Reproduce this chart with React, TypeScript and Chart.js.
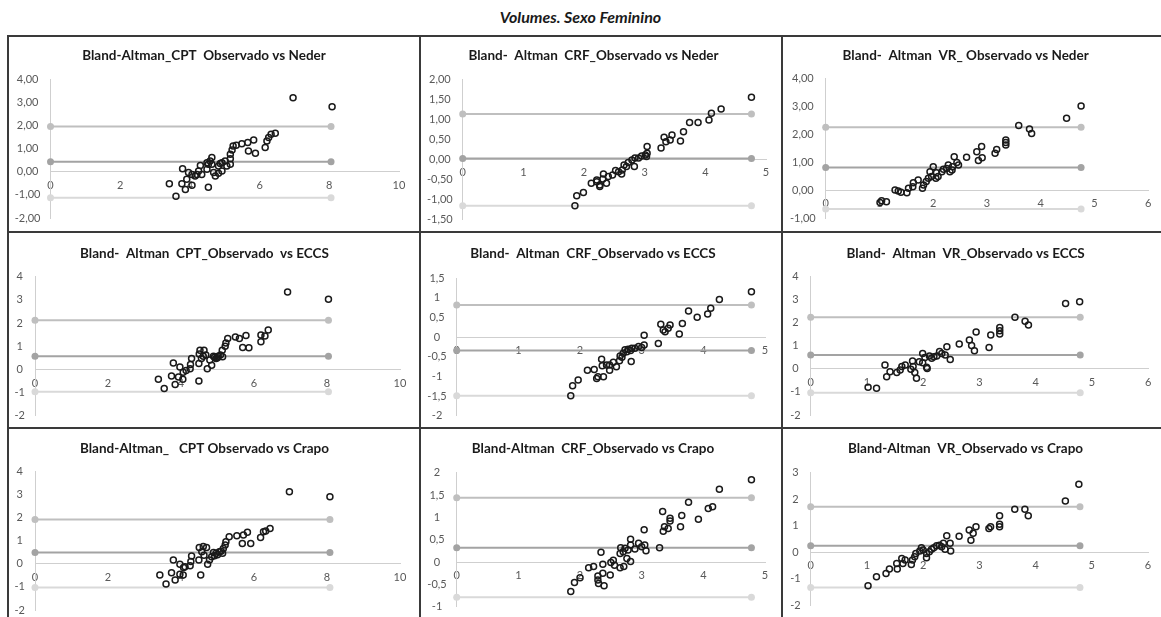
import React, { useEffect, useRef } from "react";
import { Chart, registerables } from "chart.js";

Chart.register(...registerables);

const FONT = "Lato, 'Open Sans', sans-serif";

// ---------- DATA ----------
// Row 1: vs Neder
const cptNederX = [6.96, 8.08, 6.45, 6.33, 6.26, 6.21, 6.16, 5.83, 5.66, 5.49, 5.68, 5.88, 5.33, 5.24, 5.21, 5.16, 5.16, 5.16, 5.01, 4.92, 4.82, 4.92, 4.82, 4.63, 4.58, 4.53, 4.63, 4.49, 4.49, 4.68, 4.73, 4.30, 4.25, 4.34, 4.20, 4.15, 4.06, 3.96, 3.79, 4.53, 3.41, 3.77, 3.87, 4.06, 3.60, 3.91, 5.06, 4.87];
const cptNederY = [3.19, 2.80, 1.66, 1.61, 1.47, 1.32, 1.04, 1.37, 1.26, 1.21, 0.89, 0.79, 1.14, 1.11, 0.94, 0.75, 0.56, 0.32, 0.46, 0.39, 0.24, 0.03, -0.07, 0.61, 0.46, 0.32, 0.32, 0.39, 0.10, -0.04, -0.19, 0.27, 0.03, -0.12, -0.12, -0.19, -0.12, -0.04, 0.13, -0.67, -0.52, -0.52, -0.77, -0.59, -1.06, -0.33, 0.25, 0.35];

const crfNederX = [4.76, 4.26, 4.10, 4.06, 3.88, 3.74, 3.64, 3.59, 3.45, 3.42, 3.32, 3.35, 3.27, 3.04, 3.04, 3.01, 3.03, 2.95, 2.90, 2.84, 2.79, 2.83, 2.73, 2.70, 2.66, 2.63, 2.57, 2.62, 2.52, 2.47, 2.40, 2.32, 2.31, 2.21, 2.37, 2.26, 2.26, 2.21, 2.12, 1.99, 1.88, 1.85];
const crfNederY = [1.55, 1.26, 1.15, 0.98, 0.92, 0.92, 0.69, 0.46, 0.61, 0.48, 0.55, 0.44, 0.28, 0.32, 0.15, 0.11, 0.07, 0.08, 0.03, 0.03, -0.02, -0.18, -0.08, -0.18, -0.14, -0.27, -0.31, -0.37, -0.28, -0.39, -0.43, -0.37, -0.49, -0.56, -0.60, -0.64, -0.68, -0.52, -0.60, -0.83, -0.91, -1.16];

const vrNederX = [4.75, 4.48, 3.59, 3.79, 3.83, 3.35, 3.35, 3.35, 3.18, 3.15, 2.90, 2.81, 2.84, 2.91, 2.62, 2.39, 2.47, 2.44, 2.28, 2.25, 2.35, 2.19, 2.16, 2.06, 2.00, 1.94, 2.09, 2.05, 1.97, 1.91, 1.87, 1.82, 1.80, 1.72, 1.63, 1.62, 1.54, 1.51, 1.40, 1.35, 1.29, 1.13, 1.01, 1.04, 2.36, 2.31];
const vrNederY = [3.00, 2.56, 2.30, 2.18, 2.02, 1.79, 1.70, 1.61, 1.45, 1.31, 1.55, 1.37, 1.05, 1.15, 1.17, 1.19, 0.89, 0.98, 0.89, 0.77, 0.71, 0.74, 0.65, 0.62, 0.83, 0.65, 0.48, 0.42, 0.48, 0.42, 0.30, 0.18, 0.06, 0.36, 0.26, 0.12, 0.06, -0.10, -0.08, -0.04, 0.00, -0.42, -0.45, -0.38, 0.83, 0.65];

// Row 2: vs ECCS
const cptEccsX = [6.92, 8.04, 6.39, 6.30, 6.19, 6.19, 5.78, 5.60, 5.49, 5.69, 5.86, 5.28, 5.23, 5.21, 5.13, 5.14, 5.02, 4.96, 4.89, 4.79, 4.84, 4.72, 4.63, 4.52, 4.61, 4.56, 4.50, 4.49, 4.29, 4.26, 4.25, 4.14, 4.06, 3.97, 3.79, 4.49, 3.38, 3.74, 3.93, 4.05, 3.84, 3.54, 5.00, 4.92, 5.08, 4.68];
const cptEccsY = [3.34, 3.03, 1.70, 1.44, 1.48, 1.19, 1.46, 1.33, 1.40, 0.94, 0.93, 1.33, 1.14, 1.00, 0.83, 0.55, 0.57, 0.47, 0.57, 0.40, 0.18, 0.03, 0.83, 0.83, 0.57, 0.47, 0.66, 0.25, 0.47, 0.21, 0.03, -0.05, -0.12, 0.10, 0.28, -0.50, -0.43, -0.29, -0.33, -0.43, -0.65, -0.83, 0.50, 0.52, 0.62, 0.62];

const crfEccsX = [4.78, 4.26, 4.12, 4.07, 3.90, 3.76, 3.66, 3.61, 3.46, 3.31, 3.35, 3.38, 3.43, 3.27, 3.04, 3.04, 3.00, 2.95, 2.89, 2.84, 2.82, 2.78, 2.76, 2.70, 2.73, 2.68, 2.83, 2.65, 2.64, 2.59, 2.54, 2.48, 2.43, 2.48, 2.35, 2.36, 2.38, 2.29, 2.27, 2.23, 2.12, 1.97, 1.88, 1.85];
const crfEccsY = [1.16, 0.96, 0.74, 0.59, 0.51, 0.67, 0.35, 0.08, 0.31, 0.33, 0.18, 0.14, 0.23, -0.16, 0.05, -0.20, -0.26, -0.24, -0.28, -0.28, -0.34, -0.31, -0.37, -0.41, -0.32, -0.51, -0.62, -0.48, -0.60, -0.75, -0.64, -0.71, -0.71, -0.84, -0.56, -0.73, -1.01, -1.01, -1.05, -0.82, -0.84, -1.09, -1.24, -1.49];

const vrEccsX = [4.78, 4.53, 3.63, 3.81, 3.87, 3.36, 3.36, 3.36, 3.20, 3.17, 2.94, 2.82, 2.86, 2.91, 2.64, 2.42, 2.48, 2.39, 2.33, 2.29, 2.24, 2.19, 2.15, 2.11, 2.03, 1.99, 1.99, 2.06, 2.07, 1.93, 1.81, 1.82, 1.85, 1.88, 1.78, 1.68, 1.62, 1.59, 1.53, 1.41, 1.32, 1.35, 1.17, 1.02];
const vrEccsY = [2.91, 2.84, 2.24, 2.07, 1.90, 1.80, 1.66, 1.51, 1.47, 0.93, 1.60, 1.25, 1.01, 0.79, 1.08, 0.96, 0.41, 0.60, 0.67, 0.75, 0.56, 0.53, 0.46, 0.56, 0.50, 0.67, 0.27, 0.07, 0.02, 0.31, 0.34, 0.10, -0.16, -0.41, -0.02, 0.17, 0.10, -0.05, -0.16, -0.12, 0.17, -0.34, -0.84, -0.80];

// Row 3: vs Crapo
const cptCrapoX = [6.97, 8.08, 6.44, 6.32, 6.26, 6.18, 5.82, 5.71, 5.53, 5.68, 5.91, 5.32, 5.23, 5.21, 5.16, 5.14, 5.05, 4.96, 4.89, 4.84, 4.78, 4.73, 4.61, 4.70, 4.50, 4.57, 4.63, 4.49, 4.29, 4.27, 4.25, 4.11, 4.07, 3.97, 3.79, 4.54, 3.42, 3.74, 3.97, 4.06, 3.84, 3.59, 5.00, 4.92, 5.10];
const cptCrapoY = [3.13, 2.91, 1.54, 1.43, 1.40, 1.15, 1.37, 1.25, 1.22, 0.89, 0.88, 1.18, 0.96, 0.82, 0.67, 0.46, 0.53, 0.46, 0.50, 0.31, 0.17, -0.02, 0.75, 0.71, 0.71, 0.53, 0.38, 0.17, 0.34, 0.10, -0.08, -0.12, -0.16, -0.02, 0.17, -0.48, -0.48, -0.38, -0.45, -0.48, -0.70, -0.87, 0.40, 0.35, 0.55];

const crfCrapoX = [4.78, 4.26, 4.15, 4.08, 3.92, 3.76, 3.65, 3.63, 3.46, 3.46, 3.43, 3.37, 3.35, 3.34, 3.29, 3.04, 3.05, 3.07, 3.00, 2.95, 2.89, 2.82, 2.82, 2.78, 2.82, 2.76, 2.73, 2.70, 2.65, 2.66, 2.71, 2.65, 2.56, 2.50, 2.54, 2.34, 2.49, 2.37, 2.37, 2.29, 2.29, 2.30, 2.39, 2.22, 2.14, 2.00, 1.91, 1.85];
const crfCrapoY = [1.84, 1.63, 1.24, 1.20, 0.96, 1.34, 1.04, 0.79, 0.98, 0.92, 0.75, 0.79, 0.69, 1.13, 0.32, 0.72, 0.38, 0.25, 0.34, 0.42, 0.29, 0.51, 0.38, 0.27, 0.01, 0.08, 0.31, 0.23, 0.19, 0.32, -0.10, -0.13, -0.07, -0.01, 0.04, 0.22, -0.29, -0.05, -0.25, -0.31, -0.40, -0.48, -0.53, -0.10, -0.13, -0.35, -0.46, -0.66];

const vrCrapoX = [4.77, 4.53, 3.63, 3.81, 3.87, 3.36, 3.36, 3.36, 3.20, 3.17, 2.94, 2.82, 2.89, 2.85, 2.64, 2.42, 2.48, 2.49, 2.39, 2.36, 2.33, 2.29, 2.24, 2.19, 2.15, 2.11, 2.06, 2.00, 1.97, 2.06, 1.94, 1.87, 1.85, 1.81, 1.79, 1.68, 1.62, 1.64, 1.53, 1.54, 1.40, 1.34, 1.17, 1.02];
const vrCrapoY = [2.56, 1.93, 1.62, 1.62, 1.37, 1.37, 1.05, 0.96, 0.96, 0.89, 0.96, 0.83, 0.71, 0.45, 0.60, 0.62, 0.33, 0.04, 0.11, 0.33, 0.20, 0.26, 0.24, 0.16, 0.11, 0.01, -0.05, 0.08, 0.16, -0.21, 0.04, -0.05, -0.18, -0.30, -0.47, -0.30, -0.24, -0.43, -0.43, -0.64, -0.64, -0.81, -0.93, -1.27];

// Limits of agreement: [upper, mean, lower]
const cptNederLimits = [1.95, 0.43, -1.13];
const crfNederLimits = [1.13, 0.02, -1.16];
const vrNederLimits = [2.24, 0.8, -0.68];
const cptEccsLimits = [2.12, 0.57, -0.97];
const crfEccsLimits = [0.82, -0.34, -1.49];
const vrEccsLimits = [2.24, 0.6, -1.03];
const cptCrapoLimits = [1.93, 0.5, -1.02];
const crfCrapoLimits = [1.44, 0.32, -0.79];
const vrCrapoLimits = [1.71, 0.24, -1.34];

// x where the limit lines end (largest mean)
const limitLineEnd = [8.05, 4.76, 4.75, 8.04, 4.78, 4.79, 8.08, 4.78, 4.79];

const panelTitles = [
  "Bland-Altman_CPT  Observado vs Neder",
  "Bland-  Altman  CRF_Observado vs Neder",
  "Bland-  Altman  VR_ Observado vs Neder",
  "Bland-  Altman  CPT_Observado  vs ECCS",
  "Bland-  Altman  CRF_Observado vs ECCS",
  "Bland-  Altman  VR_Observado vs ECCS",
  "Bland-Altman_   CPT Observado vs Crapo",
  "Bland-Altman  CRF_Observado vs Crapo",
  "Bland-Altman  VR_Observado vs Crapo",
];

// axis ranges: [min, max, step]
const xAxisRanges = [
  [0, 10, 2], [0, 5, 1], [0, 6, 1],
  [0, 10, 2], [0, 5, 1], [0, 6, 1],
  [0, 10, 2], [0, 5, 1], [0, 6, 1],
];
const yAxisRanges = [
  [-2, 4, 1], [-1.5, 2, 0.5], [-1, 4, 1],
  [-2, 4, 1], [-2, 1.5, 0.5], [-2, 4, 1],
  [-2, 4, 1], [-1, 2, 0.5], [-2, 3, 1],
];
// y tick label style: "fixed2" = "4,00", "plain" = "1,5"
const yTickStyles = ["fixed2", "fixed2", "fixed2", "plain", "plain", "plain", "plain", "plain", "plain"];

const mainTitle = "Volumes. Sexo Feminino";

// ---------- LAYOUT (pixels) ----------
const COL_LEFT = [9, 421, 783];
const COL_W = [410, 360, 378];
const ROW_TOP = [37, 233, 429];
const ROW_H = [194, 194, 188];
const TITLE_Y = [55.5, 253.3, 448.3];
// plot rectangles in page coords [left, top, right, bottom]
const PLOT_RECTS = [
  [50.5, 79, 399, 218], [462.7, 79.3, 766, 219.3], [825.7, 78, 1148.3, 218],
  [35, 276.7, 400, 415.7], [456.7, 278.3, 765, 415.7], [810.7, 276.7, 1148.3, 415],
  [35, 471.7, 400, 610], [456.7, 472.7, 765, 606.7], [810.7, 472.7, 1148, 605],
];

const LIMIT_COLORS = ["#bfbfbf", "#a3a3a3", "#d9d9d9"];
const AXIS_COLOR = "#cfcfcf";
const TICK_COLOR = "#595959";

const seriesX = [cptNederX, crfNederX, vrNederX, cptEccsX, crfEccsX, vrEccsX, cptCrapoX, crfCrapoX, vrCrapoX];
const seriesY = [cptNederY, crfNederY, vrNederY, cptEccsY, crfEccsY, vrEccsY, cptCrapoY, crfCrapoY, vrCrapoY];
const limits = [cptNederLimits, crfNederLimits, vrNederLimits, cptEccsLimits, crfEccsLimits, vrEccsLimits, cptCrapoLimits, crfCrapoLimits, vrCrapoLimits];

function fmtTick(v: number, style: string) {
  const r = Math.round(v * 100) / 100;
  if (style === "fixed2") return r.toFixed(2).replace(".", ",");
  return String(r).replace(".", ",");
}

function Panel({ idx }: { idx: number }) {
  const ref = useRef<HTMLCanvasElement | null>(null);
  const col = idx % 3;
  const row = Math.floor(idx / 3);
  const cl = COL_LEFT[col];
  const cw = COL_W[col];
  const ct = ROW_TOP[row];
  const ch = ROW_H[row];

  useEffect(() => {
    if (!ref.current) return;
    const [L, T, R, B] = PLOT_RECTS[idx];
    const plotLeft = L - cl;
    const plotTop = T - ct;
    const plotRight = R - cl;
    const plotBottom = B - ct;
    const titleSize = 13.5;
    const lh = titleSize * 1.2;
    const tc = TITLE_Y[row] - ct;
    const padTop = tc - lh / 2;
    const padBottom = Math.max(0, plotTop - padTop - lh);

    const xs = seriesX[idx];
    const ys = seriesY[idx];
    const points = xs.map((x, i) => ({ x, y: ys[i] }));
    const [xMin, xMax, xStep] = xAxisRanges[idx];
    const [yMin, yMax, yStep] = yAxisRanges[idx];
    const style = yTickStyles[idx];

    const limitSets = limits[idx].map((v, i) => ({
      data: [
        { x: 0, y: v },
        { x: limitLineEnd[idx], y: v },
      ],
      showLine: true,
      borderColor: LIMIT_COLORS[i],
      backgroundColor: LIMIT_COLORS[i],
      pointBackgroundColor: LIMIT_COLORS[i],
      pointBorderColor: LIMIT_COLORS[i],
      borderWidth: 2,
      pointRadius: 3.5,
      pointBorderWidth: 0,
      tension: 0,
      clip: false as any,
    }));

    const chart = new Chart(ref.current, {
      type: "scatter",
      data: {
        datasets: [
          {
            data: points,
            showLine: false,
            pointStyle: "circle",
            pointRadius: 3,
            pointBorderWidth: 1.5,
            pointBorderColor: "#1a1a1a",
            pointBackgroundColor: "rgba(0,0,0,0)",
            borderColor: "#1a1a1a",
            backgroundColor: "rgba(0,0,0,0)",
            clip: false as any,
          } as any,
          ...(limitSets as any[]),
        ],
      },
      options: {
        responsive: false,
        animation: false,
        devicePixelRatio: 1,
        events: [],
        layout: {
          padding: {
            left: 0,
            top: 0,
            right: cw - plotRight,
            bottom: ch - plotBottom,
          },
        },
        plugins: {
          legend: { display: false },
          tooltip: { enabled: false },
          title: {
            display: true,
            text: panelTitles[idx],
            color: "#1a1a1a",
            font: { family: FONT, size: titleSize, weight: "bold", lineHeight: 1.2 },
            padding: { top: padTop, bottom: padBottom },
          },
        },
        scales: {
          x: {
            type: "linear",
            position: { y: 0 } as any,
            min: xMin,
            max: xMax,
            grid: { display: false, drawTicks: false },
            border: { display: true, color: AXIS_COLOR, width: 1 },
            ticks: {
              stepSize: xStep,
              padding: 7,
              color: TICK_COLOR,
              autoSkip: false,
              maxRotation: 0,
              font: { family: FONT, size: 11 },
              callback: (v: any) => String(v),
            },
            afterFit: (s: any) => {
              s.paddingTop = 0;
              s.paddingBottom = 0;
            },
          },
          y: {
            type: "linear",
            position: "left",
            min: yMin,
            max: yMax,
            afterFit: (s: any) => {
              s.width = plotLeft;
              s.paddingTop = 0;
              s.paddingBottom = 0;
            },
            grid: { display: false, drawTicks: false },
            border: { display: true, color: AXIS_COLOR, width: 1 },
            ticks: {
              stepSize: yStep,
              padding: 10,
              crossAlign: "center",
              color: TICK_COLOR,
              autoSkip: false,
              font: { family: FONT, size: 11 },
              callback: (v: any) => fmtTick(Number(v), style),
            },
          },
        } as any,
      },
    });
    return () => chart.destroy();
  }, []);

  return (
    <canvas
      ref={ref}
      width={cw}
      height={ch}
      style={{ position: "absolute", left: cl, top: ct, width: cw, height: ch }}
    />
  );
}

const LINE_COLOR = "#3a3a3a";

export default function App() {
  const hLines = [35, 231, 427];
  const vLines = [7, 419, 781];
  return (
    <div style={{ position: "absolute", left: 0, top: 0, width: 1161, height: 617, background: "#ffffff", overflow: "hidden" }}>
      <div
        style={{
          position: "absolute",
          left: 0,
          top: 7,
          width: 1161,
          textAlign: "center",
          fontFamily: FONT,
          fontWeight: "bold",
          fontStyle: "italic",
          fontSize: 16,
          lineHeight: "20px",
          color: "#1a1a1a",
        }}
      >
        {mainTitle}
      </div>
      {Array.from({ length: 9 }, (_, i) => (
        <Panel key={i} idx={i} />
      ))}
      {hLines.map((y, i) => (
        <div key={"h" + i} style={{ position: "absolute", left: 7, top: y, width: 1154, height: 2, background: LINE_COLOR }} />
      ))}
      {vLines.map((x, i) => (
        <div key={"v" + i} style={{ position: "absolute", left: x, top: 35, width: 2, height: 582, background: LINE_COLOR }} />
      ))}
    </div>
  );
}
